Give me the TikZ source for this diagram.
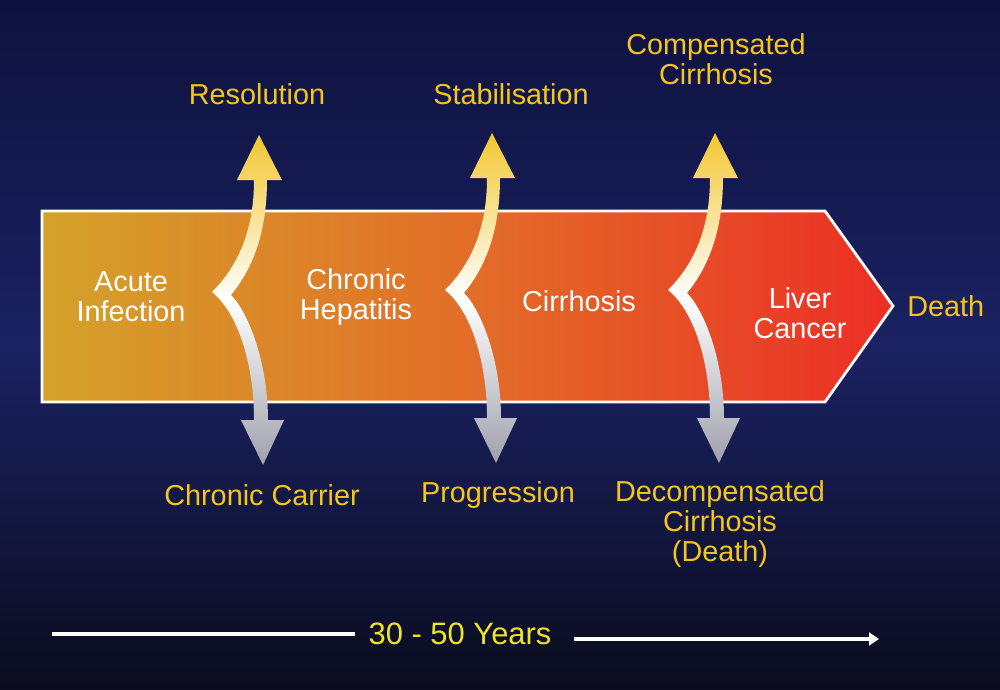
\documentclass[tikz,border=0pt]{standalone}
\usepackage{fontspec}
\setmainfont{Liberation Sans}
\usetikzlibrary{positioning,calc,arrows.meta}

\definecolor{navytop}{RGB}{14,18,62}
\definecolor{navymid}{RGB}{26,34,98}
\definecolor{navybot}{RGB}{11,12,30}
\definecolor{gold}{RGB}{212,162,42}
\definecolor{amber}{RGB}{226,110,40}
\definecolor{scarlet}{RGB}{236,46,38}
\definecolor{outyellow}{RGB}{246,196,30}
\definecolor{lemon}{RGB}{236,228,40}
\definecolor{headyellow}{RGB}{242,198,48}
\definecolor{headgrey}{RGB}{160,160,172}

\begin{document}
\begin{tikzpicture}[x=0.025cm, y=-0.025cm,
    stage/.style={text=white, align=center, inner sep=0pt, font=\fontsize{20.5}{21.2}\selectfont},
    outcome/.style={stage, text=outyellow},
    branch/.style={top color=headyellow, bottom color=headgrey, middle color=white}]
		% Background
		\useasboundingbox (0,0) rectangle (1000,690);
		\shade[top color=navytop, bottom color=navybot, middle color=navymid] (0,0) rectangle (1000,690);
		% Main arrow
		\coordinate (tip) at (893,306);
		\shadedraw[left color=gold, right color=scarlet, middle color=amber, draw=white, line width=2pt]
			(42,211) -- (825,211) -- (tip) -- (825,402) -- (42,402) -- cycle;
		% Branch points
		\coordinate (k1) at (212,292);
		\coordinate (k2) at (445,290);
		\coordinate (k3) at (668,290);
		\foreach \k in {k1,k2,k3}
			\shade[branch, shift={(\k)}] (0,0) .. controls (25,-25) and (42,-60) .. (42,-112) -- (25,-112) -- (47,-157) -- (70,-112) -- (55,-112)
				.. controls (55,-55) and (38,-20) .. (19,3) .. controls (36,20) and (56,70) .. (56,128) -- (72,128) -- (51,173) -- (29,128) -- (42,128)
				.. controls (42,70) and (25,20) .. (0,0) -- cycle;
		% Stages
		\node[stage] (Acute) at (131,297) {Acute\\Infection};
		\node[stage] (Hepatitis) at (356,297) {Chronic\\Hepatitis};
		\node[stage] (Cirrhosis) at (579,301) {Cirrhosis};
		\node[stage] (Cancer) at (800,313) {Liver\\Cancer};
		\node[outcome, right=0.35cm of tip] (Death) {Death};
		% Outcomes
		\node[outcome] (Resolution) at (257,94) {Resolution};
		\node[outcome] (Stabilisation) at (511,94) {Stabilisation};
		\node[outcome] (Compensated) at (716,59) {Compensated\\Cirrhosis};
		\node[outcome] (Carrier) at (262,495) {Chronic Carrier};
		\node[outcome] (Progression) at (498,495) {Progression};
		\node[outcome] (Decompensated) at (720,524) {Decompensated\\Cirrhosis\\(Death)};
		% Time line
		\node[stage, text=lemon, font=\fontsize{22}{22}\selectfont] (Years) at (460,634) {30 - 50 Years};
		\coordinate (tstart) at (52,634);
		\coordinate (tend) at (879,639);
		\draw[white, line width=3.5pt] (tstart) -- ($(tstart -| Years.west)+(-13,0)$);
		\draw[white, line width=3.5pt, -{Triangle[length=0.25cm,width=0.32cm]}] ($(tend -| Years.east)+(22,0)$) -- (tend);
	\end{tikzpicture}
\end{document}
